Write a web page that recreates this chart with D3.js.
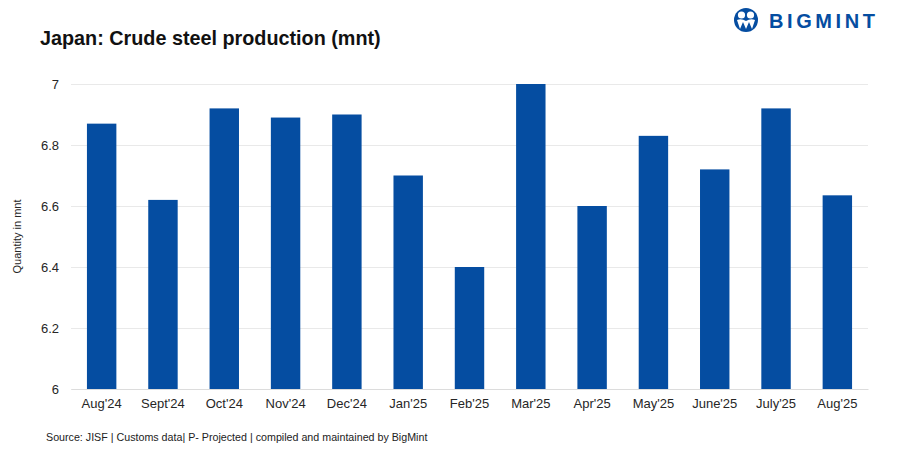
<!DOCTYPE html>
<html lang="en">
<head>
<meta charset="UTF-8">
<title>Japan: Crude steel production</title>
<script src="https://d3js.org/d3.v7.min.js"></script>
<style>
  body { margin: 0; background: #fff; font-family: 'Liberation Sans', Arial, sans-serif; }
  .grid line { stroke: #e9e9e9; stroke-width: 1; }
  .tick text { fill: #262626; }
</style>
</head>
<body>
<div id="chart"></div>
<script>
// Data
const months = ["Aug'24", "Sept'24", "Oct'24", "Nov'24", "Dec'24", "Jan'25", "Feb'25",
                "Mar'25", "Apr'25", "May'25", "June'25", "July'25", "Aug'25"];
const production = [6.87, 6.62, 6.92, 6.89, 6.90, 6.70, 6.40, 7.00, 6.60, 6.83, 6.72, 6.92, 6.635];
const yTicks = [6, 6.2, 6.4, 6.6, 6.8, 7];

const W = 907, H = 453;
const margin = { top: 84, right: 39, bottom: 64, left: 71 };
const blue = "#054da1";

const svg = d3.select("#chart").append("svg")
    .attr("width", W).attr("height", H);

const x = d3.scaleBand()
    .domain(months)
    .range([margin.left, W - margin.right])
    .paddingInner(0.52)
    .paddingOuter(0.26);

const y = d3.scaleLinear()
    .domain([6, 7])
    .range([H - margin.bottom, margin.top]);

// gridlines
svg.append("g").attr("class", "grid")
    .selectAll("line").data(yTicks).join("line")
    .attr("x1", margin.left).attr("x2", W - margin.right)
    .attr("y1", d => y(d) + 0.5).attr("y2", d => y(d) + 0.5);

// y tick labels
svg.append("g")
    .selectAll("text").data(yTicks).join("text")
    .attr("x", 59).attr("y", d => y(d))
    .attr("dy", "0.35em")
    .attr("text-anchor", "end")
    .attr("font-size", 13)
    .attr("fill", "#262626")
    .text(d => d3.format("")(d));

// bars
svg.append("g")
    .selectAll("rect").data(production).join("rect")
    .attr("x", (d, i) => x(months[i]))
    .attr("width", x.bandwidth())
    .attr("y", d => y(d))
    .attr("height", d => y(6) - y(d))
    .attr("fill", blue);

// x axis
const xAxis = svg.append("g")
    .attr("transform", `translate(0,${H - margin.bottom})`)
    .call(d3.axisBottom(x).tickSize(0).tickPadding(10));
xAxis.select(".domain").attr("stroke", "#dcdcdc");
xAxis.selectAll(".tick text")
    .attr("font-size", 13)
    .attr("font-family", "'Liberation Sans', Arial, sans-serif");

// axis title
svg.append("text")
    .attr("transform", `translate(21,${(y(6) + y(7)) / 2}) rotate(-90)`)
    .attr("text-anchor", "middle")
    .attr("font-size", 11)
    .attr("fill", "#262626")
    .text("Quantity in mnt");

// title
svg.append("text")
    .attr("x", 40).attr("y", 45)
    .attr("font-size", 19.8)
    .attr("font-weight", "bold")
    .attr("fill", "#111")
    .text("Japan: Crude steel production (mnt)");

// source
svg.append("text")
    .attr("x", 46).attr("y", 441)
    .attr("font-size", 10.7)
    .attr("fill", "#222")
    .text("Source: JISF | Customs data|  P- Projected | compiled and maintained by BigMint");

// logo
const logo = svg.append("g").attr("transform", "translate(746,20)");
logo.append("circle").attr("r", 12).attr("fill", blue);
logo.append("circle").attr("cx", -4.5).attr("cy", -5).attr("r", 3.6).attr("fill", "#fff");
logo.append("circle").attr("cx", 4.5).attr("cy", -5).attr("r", 3.6).attr("fill", "#fff");
logo.append("path")
    .attr("d", "M-9,0 Q-4.5,-2 0,1 Q4.5,-2 9,0 L6,9 L3,2 L0,9 L-3,2 L-6,9 Z")
    .attr("fill", "#fff");
svg.append("text")
    .attr("x", 769).attr("y", 28)
    .attr("font-size", 20)
    .attr("font-weight", "bold")
    .attr("letter-spacing", 3.6)
    .attr("fill", blue)
    .text("BIGMINT");
</script>
</body>
</html>
